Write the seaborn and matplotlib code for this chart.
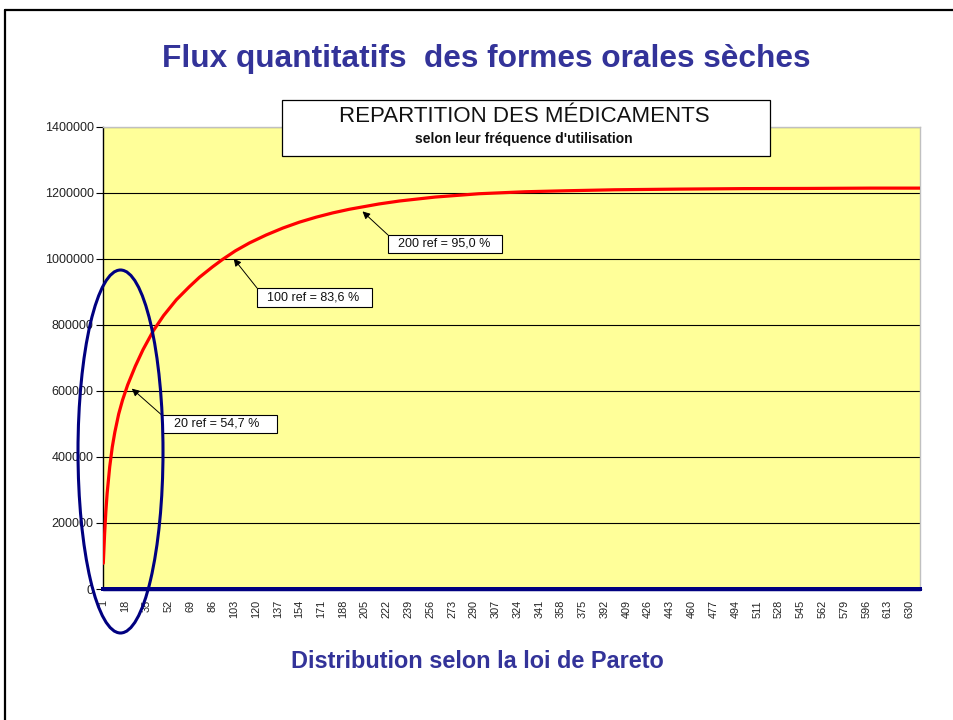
import numpy as np
import pandas as pd
import matplotlib
matplotlib.use("Agg")
import matplotlib.pyplot as plt
import seaborn as sns
from matplotlib.patches import Rectangle, Ellipse
from matplotlib.lines import Line2D

# ---------------- data ----------------
n_items = 638
cum_items = [1, 2, 3, 4, 6, 8, 10, 13, 16, 20, 26, 32, 40, 48, 58, 68, 76, 86, 94,
             104, 115, 128, 141, 154, 167, 180, 193, 216, 232, 260, 294, 330, 362,
             400, 450, 500, 550, 600, 638]
cum_values = [78000, 165000, 235000, 290000, 370000, 430000, 475000, 530000, 572000,
              618000, 675000, 725000, 782000, 828000, 876000, 915000, 944000, 975000,
              998000, 1024000, 1048000, 1072000, 1093000, 1111000, 1126000, 1139000,
              1150000, 1166000, 1175000, 1187000, 1197000, 1203000, 1206000, 1209000,
              1211000, 1212500, 1213000, 1214000, 1214000]
all_items = list(range(1, n_items + 1))
zero_series = [0] * n_items
x_tick_labels = list(range(1, 631, 17))
y_ticks = [0, 200000, 400000, 600000, 800000, 1000000, 1200000, 1400000]
ann_items = [20, 100, 200]
ann_labels = ["20 ref = 54,7 %", "100 ref = 83,6 %", "200 ref = 95,0 %"]

# ---------------- style ----------------
sns.set_style("white")
plt.rcParams['font.family'] = ['Liberation Sans', 'DejaVu Sans']

W, H = 954, 720
fig = plt.figure(figsize=(W / 100, H / 100), dpi=100)
fig.patch.set_facecolor('white')


def fx(x):
    return x / W


def fy(y):
    return 1 - y / H


ax = fig.add_axes([fx(103.3), fy(589), fx(920) - fx(103.3), fy(126.7) - fy(589)])
ax.set_facecolor('#FFFF99')

df_cum = pd.DataFrame({'item': cum_items, 'value': cum_values})
df_zero = pd.DataFrame({'item': all_items, 'value': zero_series})

sns.lineplot(data=df_zero, x='item', y='value', ax=ax, color='#000080', lw=2.5,
             marker='s', markersize=2.6, markeredgewidth=0, clip_on=False, zorder=4)
sns.lineplot(data=df_cum, x='item', y='value', ax=ax, color='#FF0000', lw=2.3, zorder=5)

ax.set_xlim(1, n_items)
ax.set_ylim(0, 1400000)
ax.set_yticks(y_ticks)
ax.set_yticklabels([str(v) for v in y_ticks])
ax.set_xticks(x_tick_labels)
ax.set_xticklabels([str(v) for v in x_tick_labels], rotation=90)
ax.yaxis.grid(True, color='black', lw=0.8)
ax.xaxis.grid(False)
ax.set_axisbelow(True)
ax.set_xlabel('')
ax.set_ylabel('')
ax.tick_params(axis='y', direction='out', length=5, width=0.8, labelsize=9,
               colors='black', labelcolor='#222222', pad=2, left=True)
ax.tick_params(axis='x', length=0, labelsize=7.8, labelcolor='#222222', pad=8)
for lab in ax.get_xticklabels():
    lab.set_verticalalignment('top')
for s in ['left', 'bottom']:
    ax.spines[s].set_color('black')
    ax.spines[s].set_linewidth(1)
for s in ['top', 'right']:
    ax.spines[s].set_color('#C0C0C0')
    ax.spines[s].set_linewidth(1)

# ---------------- annotations ----------------
boxes = [(161.7, 415, 276.7, 432.7, 174), (257, 288, 372, 307, 266.7),
         (388, 235, 502, 253, 397.7)]
for item, label, (x0, y0, x1, y1, tx) in zip(ann_items, ann_labels, boxes):
    val = float(np.interp(item, cum_items, cum_values))
    ax.annotate('', xy=(item, val), xycoords='data',
                xytext=(fx(x0), fy(y0)), textcoords='figure fraction',
                arrowprops=dict(arrowstyle='-|>', color='black', lw=0.7,
                                mutation_scale=11, shrinkA=0, shrinkB=4),
                zorder=7)
    fig.add_artist(Rectangle((fx(x0), fy(y1)), fx(x1) - fx(x0), fy(y0) - fy(y1),
                             transform=fig.transFigure, facecolor='white',
                             edgecolor='black', lw=0.8, zorder=8))
    fig.text(fx(tx), fy((y0 + y1) / 2), label, ha='left', va='center',
             fontsize=9, color='#111111', zorder=9)

# chart title box
fig.add_artist(Rectangle((fx(281.7), fy(155.7)), fx(770) - fx(281.7), fy(100) - fy(155.7),
                         transform=fig.transFigure, facecolor='white',
                         edgecolor='black', lw=0.9, zorder=8))
fig.text(fx(524), fy(116), "REPARTITION DES MÉDICAMENTS", ha='center', va='center',
         fontsize=16, color='#111111', zorder=9)
fig.text(fx(524), fy(139), "selon leur fréquence d'utilisation", ha='center', va='center',
         fontsize=10, fontweight='bold', color='#111111', zorder=9)

# ellipse highlight
fig.add_artist(Ellipse((fx(120.5), fy(451.5)), 85 / W, 363 / H, transform=fig.transFigure,
                       fill=False, edgecolor='#000080', lw=2.2, zorder=10))

# slide title and footer
fig.text(fx(486), fy(58.5), "Flux quantitatifs  des formes orales sèches", ha='center',
         va='center', fontsize=22.8, fontweight='bold', color='#333399')
fig.text(fx(477), fy(661), "Distribution selon la loi de Pareto", ha='center',
         va='center', fontsize=16.9, fontweight='bold', color='#333399')

# slide frame
fig.add_artist(Line2D([fx(5), 1.01], [fy(10), fy(10)], color='black', lw=1.6,
                      transform=fig.transFigure))
fig.add_artist(Line2D([fx(5.5), fx(5.5)], [fy(10), -0.01], color='black', lw=1.6,
                      transform=fig.transFigure))

fig.savefig('out.png', dpi=100)
